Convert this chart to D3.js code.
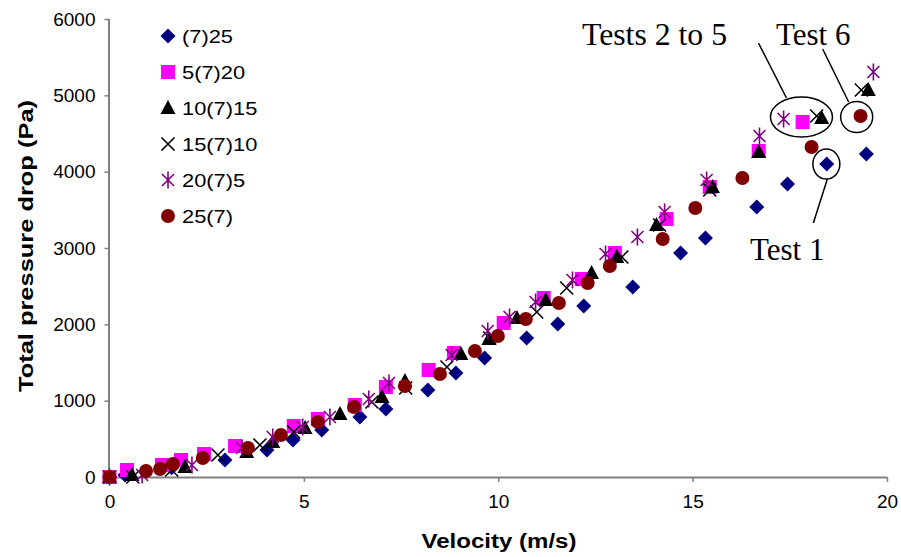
<!DOCTYPE html>
<html>
<head>
<meta charset="utf-8">
<script src="https://cdn.jsdelivr.net/npm/d3@7"></script>
<style>
  html, body { margin: 0; padding: 0; background: #fff; }
  svg { display: block; }
  .tick text { font-family: "Liberation Sans", Arial, sans-serif; fill: #000; }
</style>
</head>
<body>
<svg id="chart" width="901" height="557"></svg>
<script>
// Series names (legend order)
const seriesNames = ["(7)25", "5(7)20", "10(7)15", "15(7)10", "20(7)5", "25(7)"];

// Velocity (m/s) and total pressure drop (Pa) for each configuration
const v_7_25 = [0, 0.4, 1.6, 2.97, 4.05, 4.72, 5.46, 6.44, 7.11, 8.19, 8.91, 9.65, 10.73, 11.53, 12.2, 13.46, 14.69, 15.33, 16.65, 17.44, 18.45, 19.47];
const p_7_25 = [0, 25, 120, 223, 354, 485, 616, 786, 891, 1140, 1362, 1559, 1821, 2004, 2240, 2489, 2935, 3131, 3537, 3839, 4101, 4232];

const v_5_7_20 = [0, 0.45, 1.35, 1.84, 2.43, 3.23, 4.74, 5.36, 6.31, 7.11, 8.21, 8.86, 10.14, 11.17, 12.15, 13.0, 14.33, 15.44, 16.7, 17.83];
const p_5_7_20 = [0, 92, 157, 223, 301, 406, 668, 760, 943, 1179, 1402, 1625, 2018, 2345, 2594, 2935, 3380, 3799, 4271, 4651];

const v_10_7_15 = [0, 0.58, 1.94, 3.53, 4.2, 5.03, 5.93, 7.01, 7.6, 9.04, 9.76, 10.48, 11.22, 12.4, 13.05, 14.07, 15.51, 16.7, 18.32, 19.52];
const p_10_7_15 = [0, 26, 131, 328, 459, 642, 825, 1048, 1258, 1611, 1808, 2083, 2319, 2673, 2882, 3301, 3799, 4258, 4703, 5070];

const v_15_7_10 = [0, 0.6, 1.6, 2.79, 3.87, 4.74, 6.75, 7.62, 8.68, 9.78, 10.99, 11.76, 13.18, 14.15, 15.44, 18.19, 19.34];
const p_15_7_10 = [0, 0, 92, 288, 419, 590, 983, 1166, 1441, 1821, 2162, 2476, 2882, 3301, 3760, 4730, 5070];

const v_20_7_5 = [0, 0.84, 2.12, 3.41, 4.2, 4.97, 5.67, 6.67, 7.19, 8.8, 9.73, 10.29, 10.96, 11.91, 12.76, 13.58, 14.28, 15.36, 16.72, 17.34, 19.65];
const p_20_7_5 = [0, 26, 157, 380, 524, 655, 786, 1022, 1232, 1598, 1913, 2096, 2293, 2581, 2922, 3144, 3472, 3891, 4467, 4690, 5306];

const v_25_7 = [0, 0.94, 1.3, 1.63, 2.4, 3.56, 4.41, 5.36, 6.29, 7.6, 8.5, 9.4, 9.99, 10.71, 11.56, 12.3, 12.87, 14.23, 15.07, 16.28, 18.06, 19.32];
const p_25_7 = [0, 79, 105, 170, 249, 380, 550, 721, 917, 1192, 1349, 1651, 1847, 2070, 2280, 2542, 2764, 3118, 3524, 3917, 4323, 4729];

// Axis ticks
const xTicks = [0, 5, 10, 15, 20];
const yTicks = [0, 1000, 2000, 3000, 4000, 5000, 6000];

// Callout labels: text, and the data point each ellipse surrounds
const callouts = [
  { label: "Tests 2 to 5", cx: 17.8, cy: 4716 },
  { label: "Test 6", cx: 19.22, cy: 4716 },
  { label: "Test 1", cx: 18.44, cy: 4100 }
];

const series = [
  { name: seriesNames[0], v: v_7_25, p: p_7_25, shape: "diamond", color: "#000080" },
  { name: seriesNames[1], v: v_5_7_20, p: p_5_7_20, shape: "square", color: "#FF00FF" },
  { name: seriesNames[2], v: v_10_7_15, p: p_10_7_15, shape: "triangle", color: "#000000" },
  { name: seriesNames[3], v: v_15_7_10, p: p_15_7_10, shape: "cross", color: "#000000" },
  { name: seriesNames[4], v: v_20_7_5, p: p_20_7_5, shape: "star", color: "#800080" },
  { name: seriesNames[5], v: v_25_7, p: p_25_7, shape: "circle", color: "#800000" }
];

const sans = "Liberation Sans, Arial, sans-serif";
const serif = "Liberation Serif, Times New Roman, serif";

const svg = d3.select("#chart");
const x = d3.scaleLinear().domain([0, 20]).range([109.5, 887]);
const y = d3.scaleLinear().domain([0, 6000]).range([477, 19]);

// Marker drawing helper
function drawMarker(g, shape, color) {
  switch (shape) {
    case "diamond":
      g.append("path").attr("d", "M0,-7.5L7.5,0L0,7.5L-7.5,0Z").attr("fill", color);
      break;
    case "square":
      g.append("rect").attr("x", -7).attr("y", -7).attr("width", 14).attr("height", 14).attr("fill", color);
      break;
    case "triangle":
      g.append("path").attr("d", "M0,-8L7.5,6L-7.5,6Z").attr("fill", color);
      break;
    case "cross":
      g.append("path").attr("d", "M-6.5,-6.5L6.5,6.5M-6.5,6.5L6.5,-6.5")
        .attr("stroke", color).attr("stroke-width", 1.6).attr("fill", "none");
      break;
    case "star":
      g.append("path").attr("d", "M-6,-6L6,6M-6,6L6,-6M0,-8.5L0,8.5")
        .attr("stroke", color).attr("stroke-width", 1.6).attr("fill", "none");
      break;
    case "circle":
      g.append("circle").attr("r", 7).attr("fill", color);
      break;
  }
}

// Axes
const xAxis = d3.axisBottom(x).tickValues(xTicks).tickSize(5).tickPadding(13).tickFormat(d3.format("d"));
const yAxis = d3.axisLeft(y).tickValues(yTicks).tickSize(5).tickPadding(9).tickFormat(d3.format("d"));

const gx = svg.append("g").attr("transform", `translate(0,${y(0)})`).call(xAxis);
const gy = svg.append("g").attr("transform", `translate(${x(0)},0)`).call(yAxis);
[gx, gy].forEach(g => {
  g.select(".domain").attr("stroke", "#808080").attr("stroke-width", 2);
  g.selectAll(".tick line").attr("stroke", "#808080").attr("stroke-width", 1.5);
  g.selectAll(".tick text").attr("font-size", 19).attr("font-family", sans);
});
gx.select(".domain").attr("d", `M${x(0)},0.5H${x(20)}`);
gy.select(".domain").attr("d", `M-0.5,${y(6000)}V${y(0)}`);

// Axis titles (wide bold face)
svg.append("text")
  .attr("x", 499).attr("y", 548)
  .attr("text-anchor", "middle")
  .attr("font-family", sans)
  .attr("font-weight", "bold").attr("font-size", 20)
  .attr("textLength", 155).attr("lengthAdjust", "spacingAndGlyphs")
  .text("Velocity (m/s)");
svg.append("text")
  .attr("transform", "translate(33,246) rotate(-90)")
  .attr("text-anchor", "middle")
  .attr("font-family", sans)
  .attr("font-weight", "bold").attr("font-size", 20)
  .attr("textLength", 292).attr("lengthAdjust", "spacingAndGlyphs")
  .text("Total pressure drop (Pa)");

// Data points
series.forEach(s => {
  const g = svg.append("g").attr("class", "series");
  s.v.forEach((vv, i) => {
    const m = g.append("g").attr("transform", `translate(${x(vv)},${y(s.p[i])})`);
    drawMarker(m, s.shape, s.color);
  });
});

// Legend
const legend = svg.append("g").attr("transform", "translate(168,36)");
series.forEach((s, i) => {
  const row = legend.append("g").attr("transform", `translate(0,${i * 36})`);
  drawMarker(row, s.shape, s.color);
  row.append("text")
    .attr("transform", "translate(14,7) scale(1.15,1)")
    .attr("font-family", sans)
    .attr("font-size", 19)
    .text(s.name);
});

// Callouts
const ann = svg.append("g").attr("fill", "none").attr("stroke", "#000").attr("stroke-width", 1.5);

// Tests 2 to 5
const c0 = callouts[0];
ann.append("ellipse").attr("cx", x(c0.cx)).attr("cy", y(c0.cy)).attr("rx", 31).attr("ry", 20);
ann.append("line").attr("x1", x(c0.cx) - 43).attr("y1", y(c0.cy) - 74).attr("x2", x(c0.cx) - 15).attr("y2", y(c0.cy) - 19);
svg.append("text").attr("x", 582).attr("y", 45).attr("font-family", serif).attr("font-size", 31)
  .attr("textLength", 145).attr("lengthAdjust", "spacingAndGlyphs").text(c0.label);

// Test 6
const c1 = callouts[1];
ann.append("ellipse").attr("cx", x(c1.cx)).attr("cy", y(c1.cy)).attr("rx", 16).attr("ry", 15.5);
ann.append("line").attr("x1", x(c1.cx) - 34).attr("y1", y(c1.cy) - 68).attr("x2", x(c1.cx) - 8).attr("y2", y(c1.cy) - 15);
svg.append("text").attr("x", 776).attr("y", 45).attr("font-family", serif).attr("font-size", 31).text(c1.label);

// Test 1
const c2 = callouts[2];
ann.append("ellipse").attr("cx", x(c2.cx)).attr("cy", y(c2.cy)).attr("rx", 13.5).attr("ry", 15);
ann.append("line").attr("x1", x(c2.cx) + 1).attr("y1", y(c2.cy) + 15).attr("x2", x(c2.cx) - 13).attr("y2", y(c2.cy) + 59);
svg.append("text").attr("x", 750).attr("y", 260).attr("font-family", serif).attr("font-size", 31).text(c2.label);
</script>
</body>
</html>
